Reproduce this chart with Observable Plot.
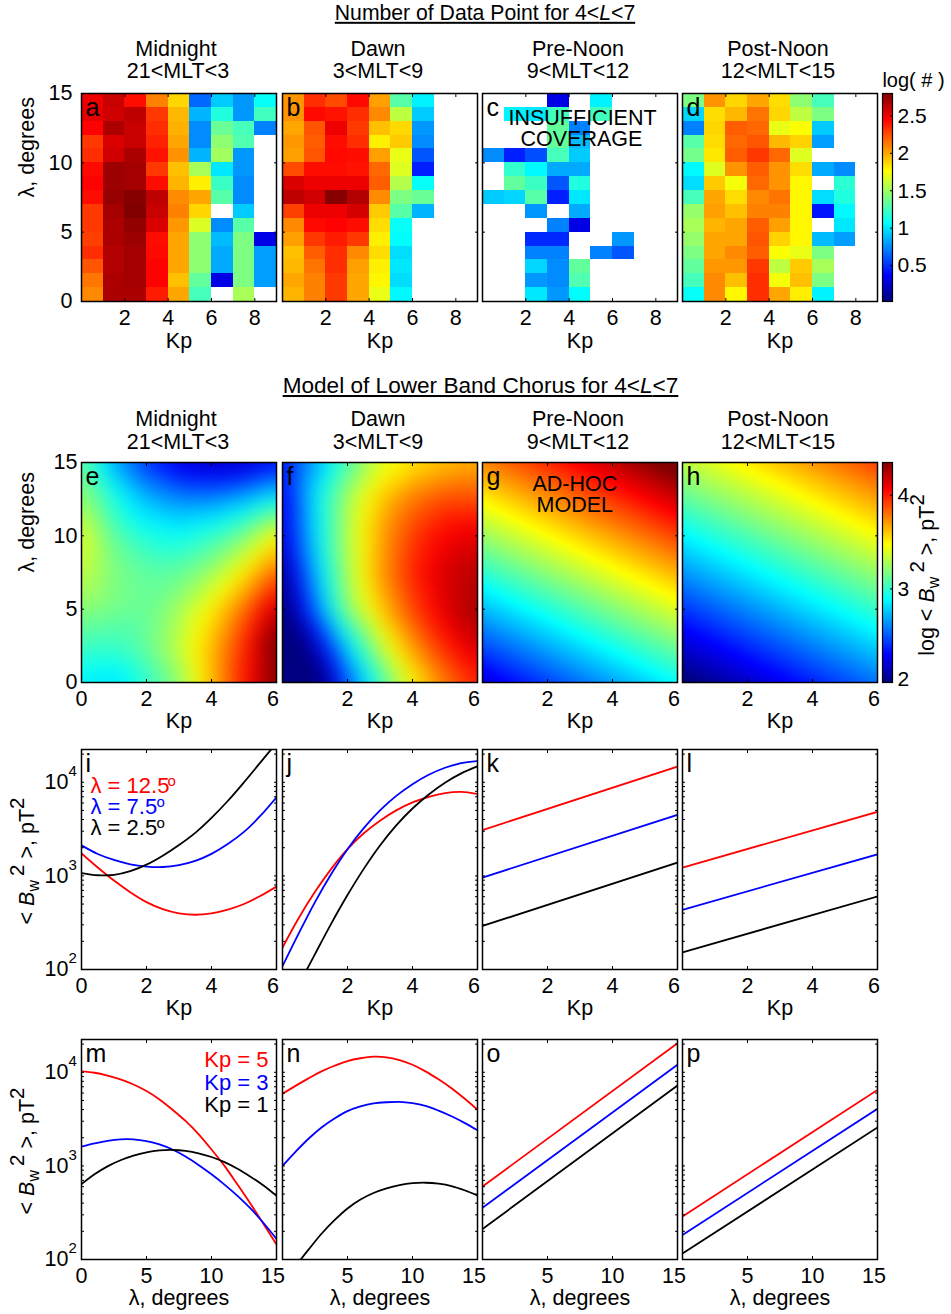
<!DOCTYPE html>
<html><head><meta charset="utf-8"><title>Lower band chorus model</title>
<script src="https://cdn.jsdelivr.net/npm/d3@7"></script>
<script src="https://cdn.jsdelivr.net/npm/@observablehq/plot@0.6"></script>
<style>
html,body{margin:0;padding:0;background:#fff}
#chart{position:relative;width:951px;height:1314px;overflow:hidden;font-family:"Liberation Sans",Arimo,Helvetica,Arial,sans-serif;font-size:21.5px;color:#000}
#chart svg{position:absolute;overflow:visible;background:transparent}
.t{position:absolute;white-space:nowrap;transform:translate(-50%,-50%);line-height:1.15}
.rot{position:absolute;white-space:pre;line-height:1;transform:translate(-50%,-50%) rotate(-90deg)}
.sup{position:relative;top:-10px;font-size:20.5px}
.sub{position:relative;top:5px;font-size:16px}
</style></head><body><div id="chart"></div>
<script>
// ---------- jet colormap ----------
const jetStops = [0, 0.125, 0.375, 0.625, 0.875, 1];
const jetColors = ["#000080", "#0000ff", "#00ffff", "#ffff00", "#ff0000", "#800000"];
// ---------- number of data points, log10(#); rows run from 15 deg down to 0 deg, columns Kp bins 0-9 ----------
const countA = [
 [2.5,2.6,2.42,2.1,1.87,.65,.92,.78,1.08],
 [2.52,2.58,2.63,2.3,1.95,.86,1.15,.78,1.24],
 [2.45,2.68,2.6,2.33,1.97,.75,1.35,1.25,.72],
 [2.3,2.55,2.6,2.36,2.0,.75,1.45,1.28,null],
 [2.33,2.58,2.68,2.4,2.05,.86,1.5,.78,null],
 [2.43,2.72,2.7,2.3,1.93,1.52,1.0,.78,null],
 [2.45,2.72,2.7,2.42,1.96,1.8,1.22,.75,null],
 [2.42,2.74,2.78,2.63,2.07,2.0,1.3,.75,null],
 [2.3,2.7,2.8,2.6,2.1,1.87,null,.92,null],
 [2.3,2.68,2.75,2.55,2.04,1.66,.75,1.3,null],
 [2.28,2.68,2.72,2.42,2.0,1.45,.88,1.4,.3],
 [2.33,2.66,2.7,2.43,2.0,1.45,.83,1.4,.8],
 [2.22,2.66,2.7,2.45,2.0,1.45,.83,1.4,.8],
 [2.13,2.68,2.7,2.45,1.93,1.33,.3,1.4,.8],
 [2.08,2.68,2.68,2.38,2.0,1.25,null,1.52,null]];
const countB = [
 [2.05,2.33,2.25,2.43,2.02,1.3,1.03],
 [2.05,2.43,2.4,2.33,2.08,1.58,.92],
 [2.0,2.22,2.5,2.3,1.93,1.86,.78],
 [2.04,2.2,2.42,2.33,1.8,1.9,.75],
 [2.02,2.22,2.43,2.42,2.02,1.7,.6],
 [2.25,2.42,2.42,2.4,2.17,1.67,.45],
 [2.55,2.5,2.5,2.5,2.2,1.55,1.08],
 [2.63,2.58,2.78,2.66,2.07,1.4,1.35],
 [2.28,2.5,2.5,2.57,1.9,1.3,.86],
 [2.08,2.43,2.45,2.42,1.85,1.08,null],
 [2.02,2.3,2.38,2.3,1.8,1.06,null],
 [1.93,2.2,2.33,2.08,1.85,.97,null],
 [1.95,2.14,2.33,2.02,1.8,1.0,null],
 [2.0,2.1,2.3,2.0,1.78,.97,null],
 [1.96,2.1,2.3,2.0,1.7,1.05,null]];
const countC = [
 [null,null,null,.3,null,1.03,null],
 [null,1.03,1.0,1.24,null,1.24,null],
 [null,null,null,1.33,.72,null,null],
 [null,null,null,1.33,.88,null,null],
 [.75,.45,.58,1.25,.92,null,null],
 [null,1.2,1.05,.83,.83,null,null],
 [null,1.33,1.22,.6,1.15,null,null],
 [.92,.95,1.3,.45,1.0,null,null],
 [null,null,.78,null,.83,null,null],
 [null,null,null,.72,.3,null,null],
 [null,null,.48,.48,null,null,.78],
 [null,null,.72,.72,null,.72,.6],
 [null,null,.95,.75,1.33,null,null],
 [null,null,.78,.75,1.28,null,null],
 [null,null,1.0,.78,1.06,null,null]];
const countD = [
 [1.4,2.05,1.87,2.0,1.85,1.45,1.25,null],
 [.95,1.85,1.95,2.14,1.87,1.58,1.4,null],
 [.72,1.87,2.2,2.17,1.7,1.75,.92,null],
 [1.3,1.85,2.17,2.22,1.95,1.88,.8,null],
 [1.38,1.82,2.2,2.3,2.17,1.67,null,null],
 [1.05,1.67,2.05,2.2,2.05,1.85,.83,.75],
 [.97,1.9,1.73,2.17,2.05,1.78,null,1.18],
 [1.25,2.0,1.85,2.08,2.14,1.78,.97,1.15],
 [1.47,2.02,1.93,2.1,2.1,1.78,.42,1.05],
 [1.52,1.96,2.0,2.2,2.02,1.78,null,1.0],
 [1.47,2.0,2.0,2.22,1.88,1.78,.88,.8],
 [1.4,2.0,2.08,2.2,1.75,1.7,1.4,null],
 [1.33,2.04,2.04,2.3,1.58,1.9,1.52,null],
 [1.25,2.08,1.93,2.33,1.73,1.93,1.4,null],
 [1.08,2.08,1.78,2.33,2.0,1.8,1.03,null]];
// ---------- model fields, log10 <Bw^2>; rows are lamGrid, columns kpGrid ----------
const kpGrid = [0,1,2,3,4,5,6];
const lamGrid = [0,2.5,5,7.5,10,12.5,15];
const fieldE = [
 [2.85,2.805,2.98,3.206,3.62,4.01,4.36],
 [3.03,3.01,3.12,3.33,3.62,3.96,4.42],
 [3.2,3.15,3.12,3.26,3.5,3.8,4.2],
 [3.33,3.17,3.10,3.11,3.25,3.51,3.84],
 [3.4,3.096,2.95,2.9,3.0,3.16,3.47],
 [3.24,2.95,2.72,2.61,2.61,2.71,2.886],
 [3.1,2.68,2.4,2.22,2.15,2.16,2.3]];
const fieldF = [
 [1.3,1.8,2.5,3.0,3.47,3.77,3.98],
 [1.5,2.17,2.81,3.32,3.71,3.98,4.17],
 [1.9,2.557,3.2,3.585,3.9,4.13,4.27],
 [2.035,2.72,3.27,3.695,3.98,4.156,4.227],
 [2.2,2.81,3.3,3.67,3.92,4.07,4.12],
 [2.234,2.84,3.27,3.59,3.78,3.886,3.876],
 [2.3,2.684,3.05,3.38,3.52,3.6,3.65]];
const kpCoarse = [0,3,6];
const lamCoarse = [0,7.5,15];
const fieldG = [[2.21,2.553,2.89],[2.982,3.32,3.652],[3.745,4.08,4.425]];
const fieldH = [[1.965,2.262,2.559],[2.638,2.935,3.23],[3.312,3.61,3.91]];
// ---------- cuts versus Kp, log10 <Bw^2> ----------
const kpSteps = [0,.5,1,1.5,2,2.5,3,3.5,4,4.5,5,5.5,6];
const iRed = [3.24,3.09,2.95,2.826,2.72,2.645,2.60,2.585,2.6,2.64,2.70,2.785,2.886];
const iBlue = [3.326,3.234,3.17,3.124,3.10,3.095,3.115,3.16,3.235,3.34,3.47,3.64,3.84];
const iBlack = [3.03,3.007,3.01,3.05,3.12,3.216,3.33,3.46,3.62,3.8,4.0,4.21,4.42];
const jRed = [2.234,2.55,2.83,3.075,3.285,3.455,3.59,3.70,3.785,3.845,3.885,3.898,3.876];
const jBlue = [2.035,2.385,2.72,3.02,3.285,3.51,3.70,3.855,3.98,4.08,4.155,4.205,4.227];
const jBlackKp = [.75,1,1.5,2,2.5,3,3.5,4,4.5,5,5.5,6];
const jBlack = [2.0,2.165,2.49,2.795,3.075,3.325,3.54,3.72,3.87,3.995,4.095,4.17];
const kpEnds = [0,6];
const kRed = [3.489,4.167], kBlue = [2.982,3.652], kBlack = [2.465,3.142];
const lRed = [3.089,3.684], lBlue = [2.638,3.23], lBlack = [2.184,2.78];
// ---------- cuts versus latitude, log10 <Bw^2> ----------
const lamSteps = [0,1,2,3,4,5,6,7,8,9,10,11,12,13,14,15];
const mRed = [4.01,3.995,3.965,3.925,3.87,3.80,3.71,3.60,3.48,3.34,3.175,3.0,2.80,2.595,2.38,2.16];
const mBlue = [3.206,3.24,3.268,3.284,3.284,3.265,3.23,3.175,3.10,3.01,2.91,2.80,2.68,2.545,2.39,2.22];
const mBlack = [2.805,2.91,2.995,3.06,3.11,3.145,3.165,3.17,3.16,3.135,3.095,3.04,2.97,2.885,2.79,2.68];
const nRed = [3.77,3.855,3.935,4.01,4.07,4.12,4.15,4.167,4.16,4.13,4.08,4.01,3.925,3.83,3.72,3.6];
const nBlue = [3.0,3.15,3.29,3.41,3.507,3.585,3.635,3.667,3.68,3.684,3.67,3.64,3.59,3.53,3.46,3.38];
const nBlackLam = [1.4,2,3,4,5,6,7,8,9,10,11,12,13,14,15];
const nBlack = [2.0,2.105,2.275,2.42,2.545,2.64,2.71,2.76,2.795,2.815,2.82,2.81,2.785,2.74,2.684];
const lamEnds = [0,15];
const oRed = [2.78,4.31], oBlue = [2.553,4.08], oBlack = [2.326,3.858];
const pRed = [2.46,3.812], pBlue = [2.262,3.61], pBlack = [2.064,3.411];
// ---------- tick labels ----------
const countKpTicks = [2,4,6,8];
const kpTicks = [2,4];
const latTicks = [0,5,10,15];
const latCutTicks = [5,10];
const decades = [2,3,4];
const minorTicks = [200,300,400,500,600,700,800,900,2000,3000,4000,5000,6000,7000,8000,9000,20000];
const countBarTicks = [.5,1,1.5,2,2.5];
const modelBarTicks = [3,4];
const modelBarLow = [2];
const columnTitles = [["Midnight","21<MLT<3"],["Dawn","3<MLT<9"],["Pre-Noon","9<MLT<12"],["Post-Noon","12<MLT<15"]];

const jet = d3.scaleLinear().domain(jetStops).range(jetColors).interpolate(d3.interpolateRgb);
const countDomain = [0.02, 2.8];
const modelDomain = [2, 4.35];
const logDomain = [100, 22400];

const chart = document.getElementById("chart");
const lefts = [81, 282, 482, 682], W = 195;
const M = {l: 60, r: 20, t: 6, b: 50};
const FS = 21.5;
const fmt = d => String(d);

function put(plot, left, top) {
  plot.style.left = (left - M.l) + "px";
  plot.style.top = (top - M.t) + "px";
  chart.appendChild(plot);
}
function html(s, x, y, cls = "t", extra = "") {
  const d = document.createElement("div");
  d.className = cls; d.innerHTML = s;
  d.style.cssText = `left:${x}px;top:${y}px;${extra}`;
  chart.appendChild(d);
}
const letter = s => Plot.text([s], {frameAnchor: "top-left", textAnchor: "start", lineAnchor: "bottom", dx: 4, dy: 22, fontSize: 25});
const note = (s, fa, dx, dy, fill = "black", fs = 22) => Plot.text([s], {frameAnchor: fa, textAnchor: fa.endsWith("right") ? "end" : "start", lineAnchor: "bottom", dx, dy, fill, fontSize: fs});

function xAxis(t, hi, pad = 8, endShift = -3.5) {
  const all = hi ? [...t, hi] : t;
  return [
    Plot.axisX({anchor: "bottom", ticks: all, tickSize: -3, tickFormat: () => "", label: null}),
    Plot.axisX({anchor: "top", ticks: all, tickSize: -3, tickFormat: () => "", label: null}),
    Plot.axisX({anchor: "bottom", ticks: t, tickSize: 0, tickPadding: pad, tickFormat: fmt, fontSize: FS, label: null}),
    hi ? Plot.axisX({anchor: "bottom", ticks: [hi], tickSize: 0, tickPadding: pad, tickFormat: fmt, fontSize: FS, label: null, dx: endShift}) : null
  ];
}
function yTicks(t) {
  return [
    Plot.axisY({anchor: "left", ticks: t, tickSize: -3, tickFormat: () => "", label: null}),
    Plot.axisY({anchor: "right", ticks: t, tickSize: -3, tickFormat: () => "", label: null})
  ];
}
const xTitle = (s, dy) => Plot.text([s], {frameAnchor: "bottom", lineAnchor: "middle", dy, fontSize: FS});
const latTitle = () => Plot.text(["\u03bb, degrees"], {frameAnchor: "left", lineAnchor: "middle", rotate: -90, dx: -54, fontSize: FS});

function base(h, x, y, color, marks) {
  return Plot.plot({
    width: W + M.l + M.r, height: h + M.t + M.b,
    marginLeft: M.l, marginRight: M.r, marginTop: M.t, marginBottom: M.b,
    x: {...x, axis: null}, y: {...y, axis: null}, color,
    style: {background: "transparent", overflow: "visible", fontFamily: '"Liberation Sans",Arimo,Helvetica,Arial,sans-serif', fontSize: "21.5px", color: "black"},
    marks: marks.flat(2).filter(Boolean)
  });
}

// ---------- row 1: counts ----------
const countColor = {type: "linear", domain: countDomain, interpolate: jet, clamp: true};
function countPanel(grid, name, col, extra) {
  const cells = [];
  grid.forEach((row, r) => row.forEach((v, c) => { if (v != null) cells.push({c, r: 14 - r, v}); }));
  const first = col === 0;
  return base(208, {domain: [0, 9]}, {domain: [0, 15]}, countColor, [
    Plot.rect(cells, {x1: "c", x2: d => d.c + 1, y1: "r", y2: d => d.r + 1, fill: "v", shapeRendering: "crispEdges"}),
    xAxis(countKpTicks, null),
    yTicks([5, 10]),
    first ? Plot.axisY({anchor: "left", ticks: latTicks, tickSize: 0, tickPadding: 9, tickFormat: fmt, fontSize: FS, label: null}) : null,
    first ? latTitle() : null,
    xTitle("Kp", 40),
    Plot.frame({stroke: "black", strokeWidth: 1.5}),
    letter(name),
    extra
  ]);
}
put(countPanel(countA, "a", 0), lefts[0], 93);
put(countPanel(countB, "b", 1), lefts[1], 93);
put(countPanel(countC, "c", 2, [
  note("INSUFFICIENT", "top-left", 26, 31, "black", 21.5),
  note("COVERAGE", "top-left", 38, 52, "black", 21.5)
]), lefts[2], 93);
put(countPanel(countD, "d", 3), lefts[3], 93);

// ---------- row 2: model fields ----------
const modelColor = {type: "linear", domain: modelDomain, interpolate: jet, clamp: true};
function fieldPanel(field, kps, lams, name, col, blur, extra) {
  const pts = [];
  field.forEach((row, r) => row.forEach((v, c) => pts.push({k: kps[c], l: lams[r], v})));
  const first = col === 0;
  return base(220, {domain: [0, 6]}, {domain: [0, 15]}, modelColor, [
    Plot.raster(pts, {x: "k", y: "l", fill: "v", x1: 0, x2: 6, y1: 0, y2: 15, interpolate: "barycentric", blur}),
    first ? xAxis([0, 2, 4], 6) : xAxis(kpTicks, 6),
    yTicks([5, 10]),
    first ? Plot.axisY({anchor: "left", ticks: latTicks, tickSize: 0, tickPadding: 4, tickFormat: fmt, fontSize: FS, label: null}) : null,
    first ? latTitle() : null,
    xTitle("Kp", 39),
    Plot.frame({stroke: "black", strokeWidth: 1.5}),
    letter(name),
    extra
  ]);
}
put(fieldPanel(fieldE, kpGrid, lamGrid, "e", 0, 9), lefts[0], 462);
put(fieldPanel(fieldF, kpGrid, lamGrid, "f", 1, 9), lefts[1], 462);
put(fieldPanel(fieldG, kpCoarse, lamCoarse, "g", 2, 2, [
  note("AD-HOC", "top-left", 50, 28, "black", 21.5),
  note("MODEL", "top-left", 54, 49, "black", 21.5)
]), lefts[2], 462);
put(fieldPanel(fieldH, kpCoarse, lamCoarse, "h", 3, 2), lefts[3], 462);

// ---------- rows 3 and 4: line cuts ----------
const toPts = (xs, vs) => xs.map((x, i) => ({x, y: 10 ** vs[i]}));
function linePanel(top, domain, tick, hi, name, col, series, extra, title) {
  const first = col === 0;
  return put(base(220, {domain}, {type: "log", domain: logDomain}, undefined, [
    series.map(([xs, vs, stroke]) => Plot.line(toPts(xs, vs), {x: "x", y: "y", stroke, strokeWidth: 1.8, curve: "catmull-rom", clip: true})),
    first ? xAxis([0, ...tick], hi) : xAxis(tick, hi),
    yTicks([...decades.map(d => 10 ** d), ...minorTicks]),
    first ? Plot.axisY({anchor: "left", ticks: decades.map(d => 10 ** d), tickSize: 0, tickPadding: 13, fontSize: FS, tickFormat: () => "10", label: null}) : null,
    first ? Plot.text(decades, {y: d => 10 ** d, text: d => String(d), frameAnchor: "left", textAnchor: "start", lineAnchor: "middle", dx: -13, dy: -11, fontSize: 15}) : null,
    xTitle(title, 39),
    Plot.frame({stroke: "black", strokeWidth: 1.5}),
    letter(name),
    extra
  ]), lefts[col], top);
}
linePanel(749, [0, 6], kpTicks, 6, "i", 0, [[kpSteps, iRed, "red"], [kpSteps, iBlue, "blue"], [kpSteps, iBlack, "black"]], [
  note("\u03bb = 12.5", "top-left", 9, 43, "red"), note("o", "top-left", 86, 36, "red", 15),
  note("\u03bb = 7.5", "top-left", 9, 64, "blue"), note("o", "top-left", 75, 57, "blue", 15),
  note("\u03bb = 2.5", "top-left", 9, 85, "black"), note("o", "top-left", 75, 78, "black", 15)
], "Kp");
linePanel(749, [0, 6], kpTicks, 6, "j", 1, [[kpSteps, jRed, "red"], [kpSteps, jBlue, "blue"], [jBlackKp, jBlack, "black"]], null, "Kp");
linePanel(749, [0, 6], kpTicks, 6, "k", 2, [[kpEnds, kRed, "red"], [kpEnds, kBlue, "blue"], [kpEnds, kBlack, "black"]], null, "Kp");
linePanel(749, [0, 6], kpTicks, 6, "l", 3, [[kpEnds, lRed, "red"], [kpEnds, lBlue, "blue"], [kpEnds, lBlack, "black"]], null, "Kp");
linePanel(1039, [0, 15], latCutTicks, 15, "m", 0, [[lamSteps, mRed, "red"], [lamSteps, mBlue, "blue"], [lamSteps, mBlack, "black"]], [
  note("Kp = 5", "top-right", -8, 27, "red"),
  note("Kp = 3", "top-right", -8, 50, "blue"),
  note("Kp = 1", "top-right", -8, 72, "black")
], "\u03bb, degrees");
linePanel(1039, [0, 15], latCutTicks, 15, "n", 1, [[lamSteps, nRed, "red"], [lamSteps, nBlue, "blue"], [nBlackLam, nBlack, "black"]], null, "\u03bb, degrees");
linePanel(1039, [0, 15], latCutTicks, 15, "o", 2, [[lamEnds, oRed, "red"], [lamEnds, oBlue, "blue"], [lamEnds, oBlack, "black"]], null, "\u03bb, degrees");
linePanel(1039, [0, 15], latCutTicks, 15, "p", 3, [[lamEnds, pRed, "red"], [lamEnds, pBlue, "blue"], [lamEnds, pBlack, "black"]], null, "\u03bb, degrees");

// ---------- colour bars ----------
function colorBar(top, h, domain, ticks, low, color) {
  const n = 256, step = (domain[1] - domain[0]) / n;
  const levels = Array.from({length: n}, (_, i) => domain[0] + i * step);
  const p = Plot.plot({
    width: 10 + M.l + 60, height: h + M.t + M.b,
    marginLeft: M.l, marginRight: 60, marginTop: M.t, marginBottom: M.b,
    y: {domain, axis: null}, color,
    style: {background: "transparent", overflow: "visible", fontFamily: '"Liberation Sans",Arimo,Helvetica,Arial,sans-serif', color: "black"},
    marks: [
      Plot.rect(levels, {y1: d => d, y2: d => d + step, fill: d => d + step / 2, shapeRendering: "crispEdges"}),
      Plot.axisY({anchor: "right", ticks: [...ticks, ...low], tickSize: -3, tickFormat: () => "", label: null}),
      Plot.axisY({anchor: "right", ticks, tickSize: 0, tickPadding: 5, tickFormat: fmt, fontSize: 21, label: null}),
      low.length ? Plot.axisY({anchor: "right", ticks: low, tickSize: 0, tickPadding: 5, tickFormat: fmt, fontSize: 21, label: null, dy: -3}) : null,
      Plot.frame({stroke: "black", strokeWidth: 1.2})
    ]
  });
  put(p, 882, top);
}
colorBar(93, 208, countDomain, countBarTicks, [], countColor);
colorBar(462, 220, modelDomain, modelBarTicks, modelBarLow, modelColor);

// ---------- titles and rotated labels ----------
html('<u>Number of Data Point for 4&lt;<i>L</i>&lt;7</u>', 485, 13, "t", "font-size:21.2px");
html('<u>Model of Lower Band Chorus for 4&lt;<i>L</i>&lt;7</u>', 480.5, 386, "t", "font-size:22.6px");
const centers = [176, 378, 578, 778];
const esc = s => s.replace(/</g, "&lt;");
columnTitles.forEach(([a, b], i) => {
  html(esc(a), centers[i], 49); html(esc(b), centers[i] + (i ? 0 : 2), 71);
  html(esc(a), centers[i], 419); html(esc(b), centers[i] + (i ? 0 : 2), 442);
});
html("log( # )", 913.5, 80, "t", "font-size:20px");
const bw = '&lt; <i>B</i><span class="sub">w</span><span class="sup">&#8201;2</span> &gt;, pT<span class="sup">2</span>';
html(bw, 28, 861, "rot");
html(bw, 28, 1151, "rot");
html('log ' + bw, 928, 575, "rot");
</script></body></html>
